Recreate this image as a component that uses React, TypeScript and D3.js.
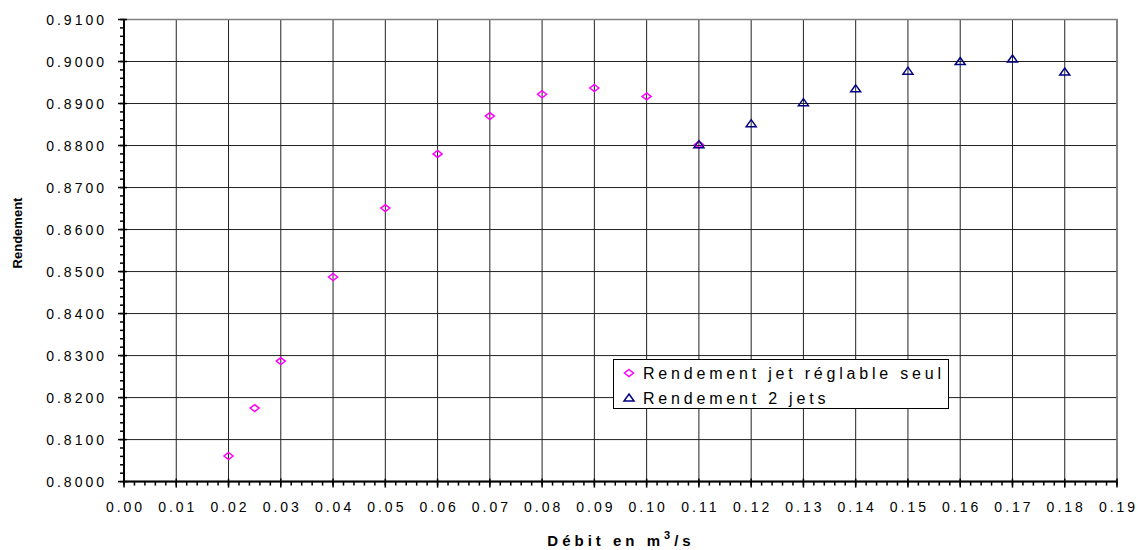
import * as d3 from "d3";
import React from "react";

// values
const xSingle = [0.02, 0.025, 0.03, 0.04, 0.05, 0.06, 0.07, 0.08, 0.09, 0.1, 0.11];
const ySingle = [0.8061, 0.8175, 0.8287, 0.8487, 0.8651, 0.878, 0.887, 0.8922, 0.8937, 0.8917, 0.8802];
const xTwo = [0.11, 0.12, 0.13, 0.14, 0.15, 0.16, 0.17, 0.18];
const yTwo = [0.8802, 0.8852, 0.8902, 0.8935, 0.8977, 0.9, 0.9006, 0.8975];
const xTicks = [0, 0.01, 0.02, 0.03, 0.04, 0.05, 0.06, 0.07, 0.08, 0.09, 0.1, 0.11, 0.12, 0.13, 0.14, 0.15, 0.16, 0.17, 0.18, 0.19];
const yTicks = [0.8, 0.81, 0.82, 0.83, 0.84, 0.85, 0.86, 0.87, 0.88, 0.89, 0.9, 0.91];
const legendLabels = ["Rendement jet réglable seul", "Rendement 2 jets"];

const W = 1138, H = 550;
const font = "'Liberation Sans', Arial, sans-serif";

const x = d3.scaleLinear().domain([0, 0.19]).range([124, 1117]);
const y = d3.scaleLinear().domain([0.8, 0.91]).range([481.6, 19.5]);

const diamond = "M0,-3.5L4.5,0L0,3.5L-4.5,0Z";
const triangle = "M0,-4L5,3L-5,3Z";

export default function App() {
  const xMinor = d3.range(0, 0.19 + 1e-9, 0.002);
  const yMinor = d3.range(0.8, 0.91 + 1e-9, 0.002);
  const single = xSingle.map((v, i) => [v, ySingle[i]]);
  const two = xTwo.map((v, i) => [v, yTwo[i]]);
  return (
    <svg width={W} height={H} style={{ position: "absolute", left: 0, top: 0, background: "#fff" }} fontFamily={font}>
      {/* grid */}
      {yTicks.map((t) => (
        <line key={"gy" + t} x1={x(0)} x2={x(0.19)} y1={y(t)} y2={y(t)} stroke="#222" strokeWidth={1} />
      ))}
      {xTicks.map((t) => (
        <line key={"gx" + t} x1={x(t)} x2={x(t)} y1={y(0.8)} y2={y(0.91)} stroke="#222" strokeWidth={1} />
      ))}
      <rect x={x(0)} y={y(0.91)} width={x(0.19) - x(0)} height={y(0.8) - y(0.91)} fill="none" stroke="#808080" strokeWidth={1.5} />

      {/* axes */}
      <line x1={x(0)} x2={x(0)} y1={y(0.8)} y2={y(0.91)} stroke="#000" strokeWidth={2} />
      <line x1={x(0)} x2={x(0.19)} y1={y(0.8)} y2={y(0.8)} stroke="#000" strokeWidth={2} />
      {yMinor.map((t) => (
        <line key={"ym" + t} x1={x(0) - 4} x2={x(0)} y1={y(t)} y2={y(t)} stroke="#000" strokeWidth={1.5} />
      ))}
      {yTicks.map((t) => (
        <g key={"yt" + t}>
          <line x1={x(0) - 6} x2={x(0) + 3} y1={y(t)} y2={y(t)} stroke="#000" strokeWidth={1.5} />
          <text x={107} y={y(t) + 5} textAnchor="end" fontSize={14} letterSpacing={3} fill="#000">
            {d3.format(".4f")(t)}
          </text>
        </g>
      ))}
      {xMinor.map((t) => (
        <line key={"xm" + t} x1={x(t)} x2={x(t)} y1={y(0.8)} y2={y(0.8) + 4} stroke="#000" strokeWidth={1.5} />
      ))}
      {xTicks.map((t) => (
        <g key={"xt" + t}>
          <line x1={x(t)} x2={x(t)} y1={y(0.8) - 3} y2={y(0.8) + 6} stroke="#000" strokeWidth={1.5} />
          <text x={x(t) + 1.5} y={511.5} textAnchor="middle" fontSize={14} letterSpacing={3} fill="#000">
            {d3.format(".2f")(t)}
          </text>
        </g>
      ))}

      {/* titles */}
      <text transform="translate(22,233) rotate(-90)" textAnchor="middle" fontSize={13} fontWeight="bold" fill="#000">
        Rendement
      </text>
      <text x={621} y={546} textAnchor="middle" fontSize={15} fontWeight="bold" letterSpacing={4} fill="#000">
        Débit en m<tspan dy={-7} fontSize={11}>3</tspan>
        <tspan dy={7}>/s</tspan>
      </text>

      {/* series */}
      {single.map(([a, b], i) => (
        <path key={"s" + i} d={diamond} transform={`translate(${x(a)},${y(b)})`} fill="none" stroke="#FF00FF" strokeWidth={1.5} />
      ))}
      {two.map(([a, b], i) => (
        <path key={"t" + i} d={triangle} transform={`translate(${x(a)},${y(b)})`} fill="none" stroke="#000080" strokeWidth={1.5} />
      ))}

      {/* legend */}
      <rect x={613.5} y={359.5} width={335} height={49} fill="#fff" stroke="#000" strokeWidth={1} />
      <path d={diamond} transform="translate(629,373)" fill="none" stroke="#FF00FF" strokeWidth={1.5} />
      <path d={triangle} transform="translate(629,398)" fill="none" stroke="#000080" strokeWidth={1.5} />
      {legendLabels.map((l, i) => (
        <text key={l} x={643} y={379 + i * 25} fontSize={16} letterSpacing={3.8} fill="#000">
          {l}
        </text>
      ))}
    </svg>
  );
}
